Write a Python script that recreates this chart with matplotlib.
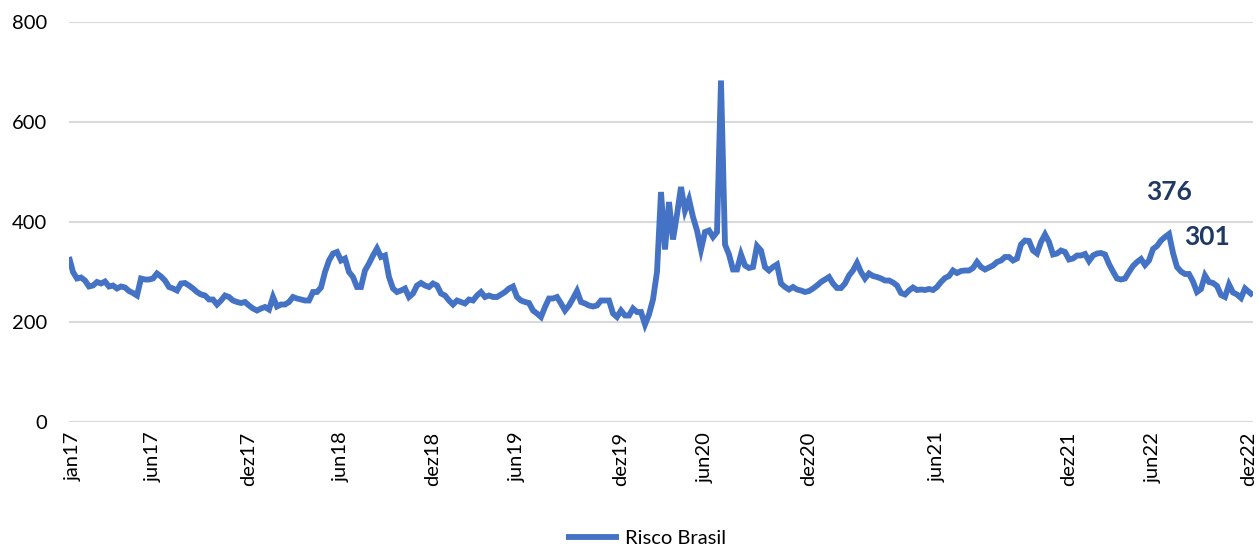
import matplotlib
matplotlib.use("Agg")
import matplotlib.pyplot as plt
import numpy as np

# Risco Brasil (pontos-base), observações em sequência de jan/17 a dez/22
risco_2017 = [330, 300, 287, 289, 283, 271, 273, 280, 277, 281, 271, 273, 267, 271, 269, 262,
              258, 253, 287, 285, 285, 287, 297, 291, 283, 270, 267, 263, 277, 278, 273, 267,
              260, 255, 253, 245, 245, 235, 243, 253, 250, 243, 240, 238, 240, 233, 227]
risco_2018 = [223, 227, 230, 225, 250, 231, 235, 235, 240, 250, 247, 245, 243, 243, 260, 260,
              269, 300, 323, 337, 340, 323, 327, 300, 290, 270, 270, 303, 317, 333, 347, 330,
              333, 290, 267, 260, 263, 267, 250, 257, 273, 278, 273, 270, 277, 273, 257, 253, 243]
risco_2019 = [235, 243, 240, 237, 245, 243, 253, 260, 250, 253, 250, 250, 255, 260, 267, 271,
              250, 243, 240, 238, 223, 217, 210, 230, 247, 247, 250, 237, 223, 233, 247, 262,
              240, 237, 233, 231, 233, 243, 243, 243, 217, 210, 223, 213, 213, 227, 220]
risco_2020 = [220, 195, 215, 245, 300, 460, 345, 440, 365, 415, 470, 423, 445, 410, 383, 345,
              380, 383, 370, 380, 683, 355, 335, 305, 305, 335, 313, 308, 310, 352, 343, 310,
              303, 310, 315, 277, 270, 265, 270, 265, 263, 260, 262, 267, 273, 280, 285, 290,
              277, 268]
risco_2021 = [268, 277, 293, 303, 318, 300, 287, 297, 292, 290, 287, 283, 283, 279, 273, 258,
              255, 263, 269, 264, 265, 264, 266, 264, 270, 280, 288, 292, 303, 298, 302, 303,
              303, 308, 320, 310, 305, 309, 313, 320, 323, 330, 330, 323, 327, 355, 363, 362,
              343, 337, 360]
risco_2022 = [375, 360, 335, 337, 343, 340, 325, 327, 333, 333, 336, 322, 333, 337, 338, 335,
              316, 301, 287, 285, 287, 300, 312, 320, 326, 314, 323, 346, 352, 363, 370, 376,
              338, 310, 301, 296, 296, 281, 260, 266, 293, 280, 278, 272, 254, 250, 275, 259,
              255, 248, 267, 260, 253]

serie = risco_2017 + risco_2018 + risco_2019 + risco_2020 + risco_2021 + risco_2022

# Rótulos do eixo horizontal e a observação em que cada um aparece
rotulos = ["jan17", "jun17", "dez17", "jun18", "dez18", "jun19", "dez19",
           "jun20", "dez20", "jun21", "dez21", "jun22", "dez22"]
posicoes_rotulos = [1, 21, 45, 68, 91, 112, 138, 159, 185, 217, 250, 271, 295]

# Valores destacados
destaque_max = 376
destaque_atual = 301

y_ticks = [0, 200, 400, 600, 800]

plt.rcParams["font.family"] = ["Lato", "DejaVu Sans"]

W, H = 1259, 546
fig = plt.figure(figsize=(W / 100, H / 100), dpi=100)
ax = fig.add_axes([69 / W, 124 / H, (1253 - 69) / W, (524 - 124) / H])

x = np.arange(len(serie))
azul = "#4472C4"
ax.plot(x, serie, color=azul, linewidth=4.2, solid_joinstyle="miter",
        solid_capstyle="butt", label="Risco Brasil", zorder=3)

ax.set_xlim(0, len(serie) - 1)
ax.set_ylim(0, 800)
ax.set_yticks(y_ticks)
ax.set_yticklabels([str(v) for v in y_ticks])
ax.set_xticks(posicoes_rotulos)
ax.set_xticklabels(rotulos, rotation=90)

ax.grid(axis="y", color="#d9d9d9", linewidth=1.5, zorder=0)
ax.grid(axis="x", visible=False)
for s in ax.spines.values():
    s.set_visible(False)
ax.tick_params(axis="both", length=0, labelsize=14.5, colors="#000000")
ax.tick_params(axis="y", pad=16)
ax.tick_params(axis="x", pad=7)

# Rótulos de destaque
navy = "#1F3864"
i_max = serie.index(destaque_max)
ax.annotate(str(destaque_max), xy=(i_max, destaque_max), xytext=(0, 30),
            textcoords="offset points", ha="center", va="center",
            fontsize=19, fontweight="bold", color=navy)
i_atual = len(serie) - 1 - serie[::-1].index(destaque_atual)
ax.annotate(str(destaque_atual), xy=(i_atual, destaque_atual), xytext=(19, 25),
            textcoords="offset points", ha="center", va="center",
            fontsize=19, fontweight="bold", color=navy)

fig.legend(loc="center", bbox_to_anchor=(646 / W, 8 / H), frameon=False,
           fontsize=14.5, handlelength=2.6, handletextpad=0.3)

fig.savefig("out.png", dpi=100)
